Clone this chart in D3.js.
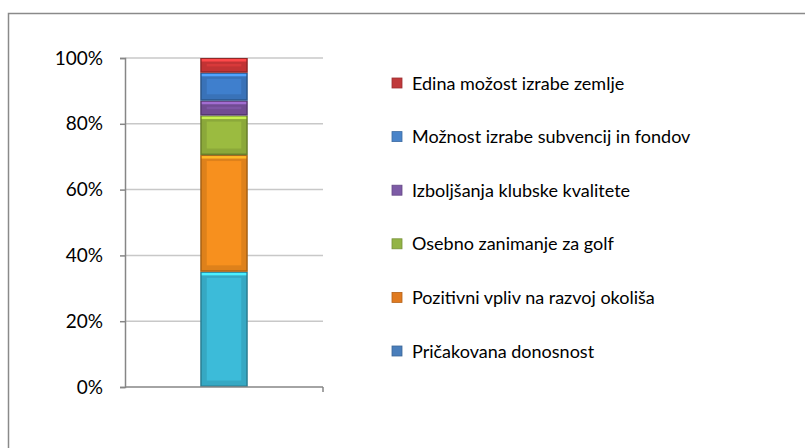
<!DOCTYPE html>
<html>
<head>
<meta charset="utf-8">
<script src="https://cdn.jsdelivr.net/npm/d3@7"></script>
<style>
  body { margin: 0; background: #fff; }
  svg { font-family: Lato, "Open Sans", sans-serif; }
  .legend text { font-size: 18px; fill: #000; }
</style>
</head>
<body>
<svg width="805" height="448"></svg>
<script>
// series, bottom to top of the stack
var series = ['Pričakovana donosnost', 'Pozitivni vpliv na razvoj okoliša', 'Osebno zanimanje za golf',
              'Izboljšanja klubske kvalitete', 'Možnost izrabe subvencij in fondov', 'Edina možost izrabe zemlje'];
var values = [35, 35.5, 12, 4.5, 8.5, 4.5];
var barColors = ['#3cbbd9', '#f7901e', '#9bbb40', '#7e55a3', '#3f7fcd', '#d8393a'];
var legendColors = ['#4a7ebb', '#e07a20', '#93b446', '#7d5ba6', '#4a84c9', '#c0393b'];
var yTicks = [0, 0.2, 0.4, 0.6, 0.8, 1];

var X_AXIS = 125, X_END = 323, Y_TOP = 58, Y_BOT = 387
var svg = d3.select('svg')

svg.append('rect')
  .attr('x', 8.5).attr('y', 13.5).attr('width', 900).attr('height', 500)
  .attr('fill', 'none').attr('stroke', '#8a8a8a').attr('stroke-width', 1.5)

var total = d3.sum(values)
var y = d3.scaleLinear().domain([0, 1]).range([Y_BOT, Y_TOP])
var x = d3.scaleBand().domain(['a']).range([X_AXIS, X_END]).paddingInner(0.76).paddingOuter(0.38)

// gridlines
svg.append('g').selectAll('line').data(yTicks.slice(1)).enter().append('line')
  .attr('x1', X_AXIS).attr('x2', X_END)
  .attr('y1', function (d) { return y(d); }).attr('y2', function (d) { return y(d); })
  .attr('stroke', '#c8c8c8').attr('stroke-width', 1.5)

// stacked bar
var stack = d3.stack().keys(series)
var row = {}
series.forEach(function (s, i) { row[s] = values[i] / total; })
var layers = stack([row])

var bw = x.bandwidth()
var g = svg.append('g').selectAll('g').data(layers).enter().append('g')
g.each(function (d, i) {
  var top = y(d[0][1]), bot = y(d[0][0])
  var c = d3.color(barColors[i])
  var sel = d3.select(this)
  sel.append('rect')
    .attr('x', x('a')).attr('y', top).attr('width', bw).attr('height', bot - top)
    .attr('fill', c.darker(1.1))
  var b = Math.min(5, (bot - top) / 3)
  sel.append('rect')
    .attr('x', x('a') + 1.5).attr('y', top + 1).attr('width', bw - 3).attr('height', Math.max(0, bot - top - 2.5))
    .attr('fill', c.darker(0.3))
  sel.append('rect')
    .attr('x', x('a') + 1.5 + b).attr('y', top + 1 + b).attr('width', bw - 3 - 2 * b).attr('height', Math.max(0, bot - top - 2.5 - 2 * b))
    .attr('fill', c)
  sel.append('rect')
    .attr('x', x('a') + 1.5).attr('y', top + 1).attr('width', bw - 3).attr('height', Math.min(2.5, b))
    .attr('fill', c.brighter(0.7))
})

// y axis
var yAxis = d3.axisLeft(y).tickValues(yTicks).tickFormat(d3.format('.0%')).tickSize(5).tickPadding(17)
var ya = svg.append('g').attr('transform', 'translate(' + X_AXIS + ',0)').call(yAxis)
ya.select('.domain').attr('stroke', '#868686').attr('stroke-width', 1.5)
ya.selectAll('.tick line').attr('stroke', '#868686').attr('stroke-width', 1.5)
ya.selectAll('.tick text').attr('font-family', 'Lato, sans-serif').attr('font-size', 19).attr('fill', '#000')

// x axis baseline
svg.append('line').attr('x1', X_AXIS).attr('x2', X_END).attr('y1', Y_BOT).attr('y2', Y_BOT)
  .attr('stroke', '#868686').attr('stroke-width', 1.5)
svg.append('line').attr('x1', X_END).attr('x2', X_END).attr('y1', Y_BOT).attr('y2', Y_BOT + 5)
  .attr('stroke', '#868686').attr('stroke-width', 1.5)

// legend, top entry is the top series
var legendOrder = series.slice().reverse()
var lc = legendColors.slice().reverse()
var leg = svg.append('g').attr('class', 'legend').selectAll('g').data(legendOrder).enter().append('g')
  .attr('transform', function (d, i) { return 'translate(392,' + (83 + 53.6 * i) + ')'; })
leg.append('rect').attr('x', 0).attr('y', -5).attr('width', 10).attr('height', 10)
  .attr('fill', function (d, i) { return lc[i]; })
  .attr('stroke', function (d, i) { return d3.color(lc[i]).darker(0.6); }).attr('stroke-width', 0.8)
leg.append('text').attr('x', 20).attr('y', 6.5).text(function (d) { return d; })
</script>
</body>
</html>
